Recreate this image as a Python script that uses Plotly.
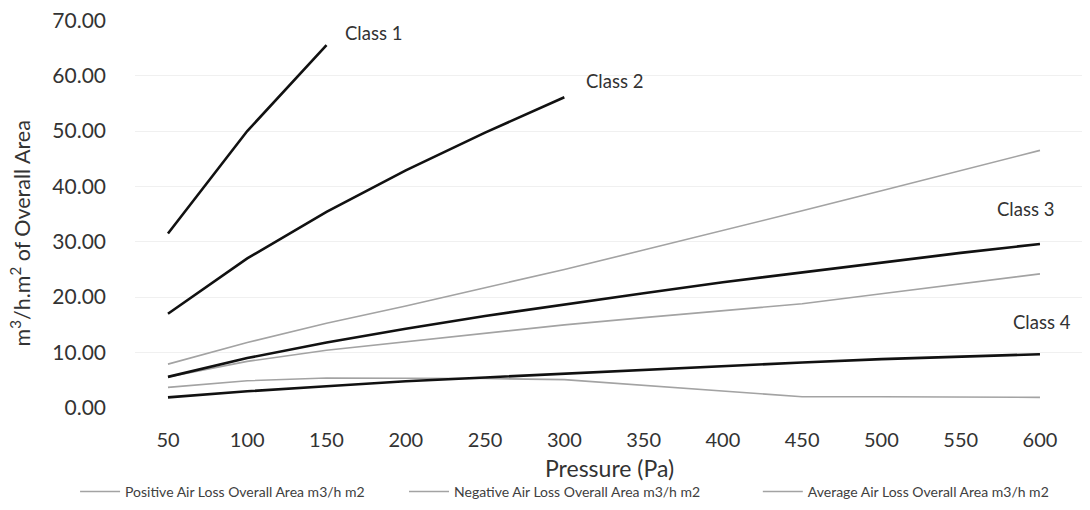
import plotly.graph_objects as go

pressure = [50, 100, 150, 200, 250, 300, 350, 400, 450, 500, 550, 600]

class1 = [31.5, 50.0, 65.5]
class2 = [17.0, 27.0, 35.4, 42.9, 49.7, 56.1]
class3 = [5.6, 9.0, 11.8, 14.3, 16.6, 18.7, 20.7, 22.7, 24.5, 26.3, 28.0, 29.6]
class4 = [1.9, 3.0, 3.9, 4.8, 5.5, 6.2, 6.9, 7.6, 8.2, 8.8, 9.3, 9.7]

positive = [7.9, 11.8, 15.3, 18.4, 21.7, 25.0, 28.5, 32.0, 35.6, 39.2, 42.9, 46.5]
negative = [3.7, 4.9, 5.4, 5.4, 5.3, 5.1, 4.1, 3.0, 2.0, 2.0, 1.9, 1.9]
average = [5.6, 8.4, 10.4, 11.9, 13.5, 15.0, 16.3, 17.5, 18.8, 20.6, 22.4, 24.2]

series_names = [
    "Positive Air Loss Overall Area m3/h m2",
    "Negative Air Loss Overall Area m3/h m2",
    "Average Air Loss Overall Area m3/h m2",
]
class_labels = ["Class 1", "Class 2", "Class 3", "Class 4"]
y_ticks = [0, 10, 20, 30, 40, 50, 60, 70]

FONT = "Lato"
TXT = "#333333"
GREY = "#a3a3a3"

fig = go.Figure()

legend_ids = ["legend", "legend2", "legend3"]
for name, vals, lid in zip(series_names, [positive, negative, average], legend_ids):
    fig.add_trace(go.Scatter(x=pressure, y=vals, mode="lines", name=name, legend=lid,
                             line=dict(color=GREY, width=1.6)))

classes = [class1, class2, class3, class4]
for lab, vals in zip(class_labels, classes):
    fig.add_trace(go.Scatter(x=pressure[:len(vals)], y=vals, mode="lines", name=lab,
                             showlegend=False, line=dict(color="#111111", width=2.6)))

# class labels anchored at the end of each class curve
offsets = {
    "Class 1": dict(xanchor="left", xshift=16, yshift=12),
    "Class 2": dict(xanchor="left", xshift=20, yshift=16),
    "Class 3": dict(xanchor="center", xshift=-14, yshift=35),
    "Class 4": dict(xanchor="center", xshift=2, yshift=32),
}
for lab, vals in zip(class_labels, classes):
    fig.add_annotation(x=pressure[len(vals) - 1], y=vals[-1], text=lab, showarrow=False,
                       yanchor="middle", font=dict(family=FONT, size=18.5, color=TXT),
                       **offsets[lab])

fig.add_annotation(xref="paper", yref="paper", x=-0.121, y=0.45,
                   text="m<sup>3</sup>/h.m<sup>2</sup> of Overall Area", textangle=-90,
                   showarrow=False, xanchor="center", yanchor="middle",
                   font=dict(family=FONT, size=21.5, color=TXT))

fig.add_annotation(xref="paper", yref="paper", x=0.499, y=-0.155,
                   text="Pressure (Pa)", showarrow=False,
                   xanchor="center", yanchor="middle",
                   font=dict(family=FONT, size=23, color=TXT))

legend_style = dict(orientation="h", xref="container", yref="container",
                    xanchor="left", y=0.036, yanchor="middle",
                    font=dict(family=FONT, size=14, color="#404040"),
                    itemwidth=40, bgcolor="rgba(0,0,0,0)")

# page body adds an 8px offset, so the figure is sized 8px smaller
fig.update_layout(
    width=1082, height=502,
    margin=dict(l=127, r=5, t=12, b=102, autoexpand=False),
    paper_bgcolor="white", plot_bgcolor="white",
    font=dict(family=FONT, color=TXT),
    xaxis=dict(
        range=[29.2, 628.4], tickmode="array", tickvals=pressure,
        ticktext=[str(p) for p in pressure], showgrid=False, zeroline=False,
        showline=False, ticks="", ticklabelstandoff=18,
        tickfont=dict(family=FONT, size=20, color=TXT),
    ),
    yaxis=dict(
        range=[-0.02, 70.05], tickmode="array", tickvals=y_ticks,
        ticktext=[f"{v:.2f}" for v in y_ticks], showgrid=True, gridcolor="#f0f0f0",
        gridwidth=1, zeroline=False, showline=False, ticks="", ticklabelstandoff=28,
        ticklabeloverflow="allow",
        tickfont=dict(family=FONT, size=21, color=TXT),
    ),
    legend=dict(x=0.062, **legend_style),
    legend2=dict(x=0.366, **legend_style),
    legend3=dict(x=0.693, **legend_style),
)

fig.write_html("out.html")
